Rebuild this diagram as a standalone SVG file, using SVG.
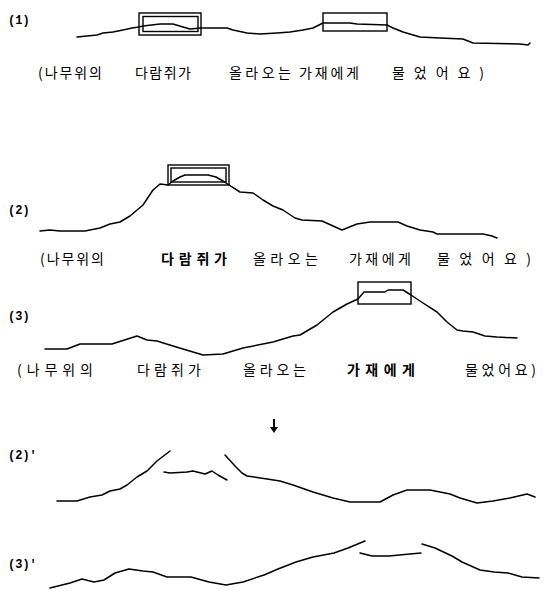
<svg xmlns="http://www.w3.org/2000/svg" width="544" height="591" viewBox="0 0 544 591">
<style>
.ln{fill:none;stroke:#000;stroke-width:1.5;stroke-linejoin:round;stroke-linecap:round}
.bx{fill:none;stroke:#000;stroke-width:1.4}
.lb{font-family:"Liberation Mono","DejaVu Sans Mono",monospace;font-size:12px;font-weight:bold;fill:#000}
.kr{font-family:"Noto Sans CJK KR","Noto Sans",sans-serif;font-size:14px;fill:#000}
.b{font-weight:bold}
</style>
<rect width="544" height="591" fill="#fff"/>
<g id="labels">
<text class="lb" x="8" y="24">(1)</text>
<text class="lb" x="8" y="214">(2)</text>
<text class="lb" x="8" y="320">(3)</text>
<text class="lb" x="8" y="459">(2)'</text>
<text class="lb" x="8" y="568">(3)'</text>
</g>
<g id="row1">
<text class="kr" x="38" y="78" textLength="64" lengthAdjust="spacing">(나무위의</text>
<text class="kr" x="135" y="78" textLength="56" lengthAdjust="spacing">다람쥐가</text>
<text class="kr" x="229" y="78" textLength="62" lengthAdjust="spacing">올라오는</text>
<text class="kr" x="299" y="78" textLength="60" lengthAdjust="spacing">가재에게</text>
<text class="kr" x="392" y="78" textLength="92" lengthAdjust="spacing">물었어요)</text>
</g>
<g id="row2">
<text class="kr" x="40" y="264" textLength="64" lengthAdjust="spacing">(나무위의</text>
<text class="kr b" x="161" y="264" textLength="66" lengthAdjust="spacing">다람쥐가</text>
<text class="kr" x="253" y="264" textLength="65" lengthAdjust="spacing">올라오는</text>
<text class="kr" x="349" y="264" textLength="62" lengthAdjust="spacing">가재에게</text>
<text class="kr" x="437" y="264" textLength="94" lengthAdjust="spacing">물었어요)</text>
</g>
<g id="row3">
<text class="kr" x="17" y="375" textLength="76" lengthAdjust="spacing">(나무위의</text>
<text class="kr" x="137" y="375" textLength="64" lengthAdjust="spacing">다람쥐가</text>
<text class="kr" x="243" y="375" textLength="63" lengthAdjust="spacing">올라오는</text>
<text class="kr b" x="347" y="375" textLength="68" lengthAdjust="spacing">가재에게</text>
<text class="kr" x="465" y="375" textLength="71" lengthAdjust="spacing">물었어요)</text>
</g>
<g id="curve1">
<polyline class="ln" points="77,37 87,36 97,35 103,33 113,32 123,30 132,28 139,27 143,26 160,24 173,24 183,27 190,29 201,28 227,28 233,30 247,33 260,34 277,33 290,32 303,30 313,28 323,23 350,23 357,24 387,25 393,28 403,32 420,37 440,38 463,39 473,43 520,44 528,45 530,43"/>
<rect class="bx" x="139" y="13" width="62" height="22"/>
<rect class="bx" x="143" y="16.5" width="55" height="15"/>
<rect class="bx" x="323" y="13" width="64" height="18"/>
</g>
<g id="curve2">
<polyline class="ln" points="40,231 50,230 60,231 85,231 100,228 110,224 120,222 130,216 143,205 153,190 160,184 168,185 173,181 180,177 185,175 208,175 216,177 223,181 229,185 240,192 253,193 263,200 273,206 283,210 295,218 302,220 322,221 342,230 357,224 370,222 398,222 407,226 420,230 433,232 437,234 483,234 492,236 497,238"/>
<rect class="bx" x="168" y="165" width="61" height="20"/>
<rect class="bx" x="171" y="168" width="55" height="14"/>
</g>
<g id="curve3">
<polyline class="ln" points="45,349 67,349 80,344 112,344 137,336 147,340 157,341 173,346 203,355 223,354 243,348 273,342 293,336 300,335 317,325 333,312 347,304 358,299 364,292 385,292 388,290 403,290 411,295 423,303 437,312 447,322 457,330 463,331 473,332 485,336 497,337 517,338"/>
<rect class="bx" x="358" y="282" width="53" height="22"/>
</g>
<g id="arrow">
<line x1="274" y1="419" x2="274" y2="428" stroke="#000" stroke-width="2"/>
<polygon points="270,427 278,427 274,433" fill="#000"/>
</g>
<g id="curve2p">
<polyline class="ln" points="57,501 77,501 90,497 102,495 110,491 120,489 127,485 137,477 147,471 157,461 170,451"/>
<polyline class="ln" points="164,472 170,473 187,472 193,471 205,474 212,471 218,475 227,480"/>
<polyline class="ln" points="225,455 235,466 242,473 247,476 267,479 280,481 293,485 313,492 333,498 350,502 380,502 393,495 407,490 430,490 450,494 460,498 477,503 493,501 510,498 527,494 535,497"/>
</g>
<g id="curve3p">
<polyline class="ln" points="50,588 70,583 82,579 94,582 104,580 115,573 129,569 143,571 153,572 167,577 191,577 209,582 226,585 243,582 264,575 278,569 296,562 313,557 334,553 348,548 365,541"/>
<polyline class="ln" points="360,553 372,556 389,556 410,554 421,553"/>
<polyline class="ln" points="422,544 435,548 452,556 462,562 480,570 494,572 508,573 522,577 539,578"/>
</g>
</svg>
